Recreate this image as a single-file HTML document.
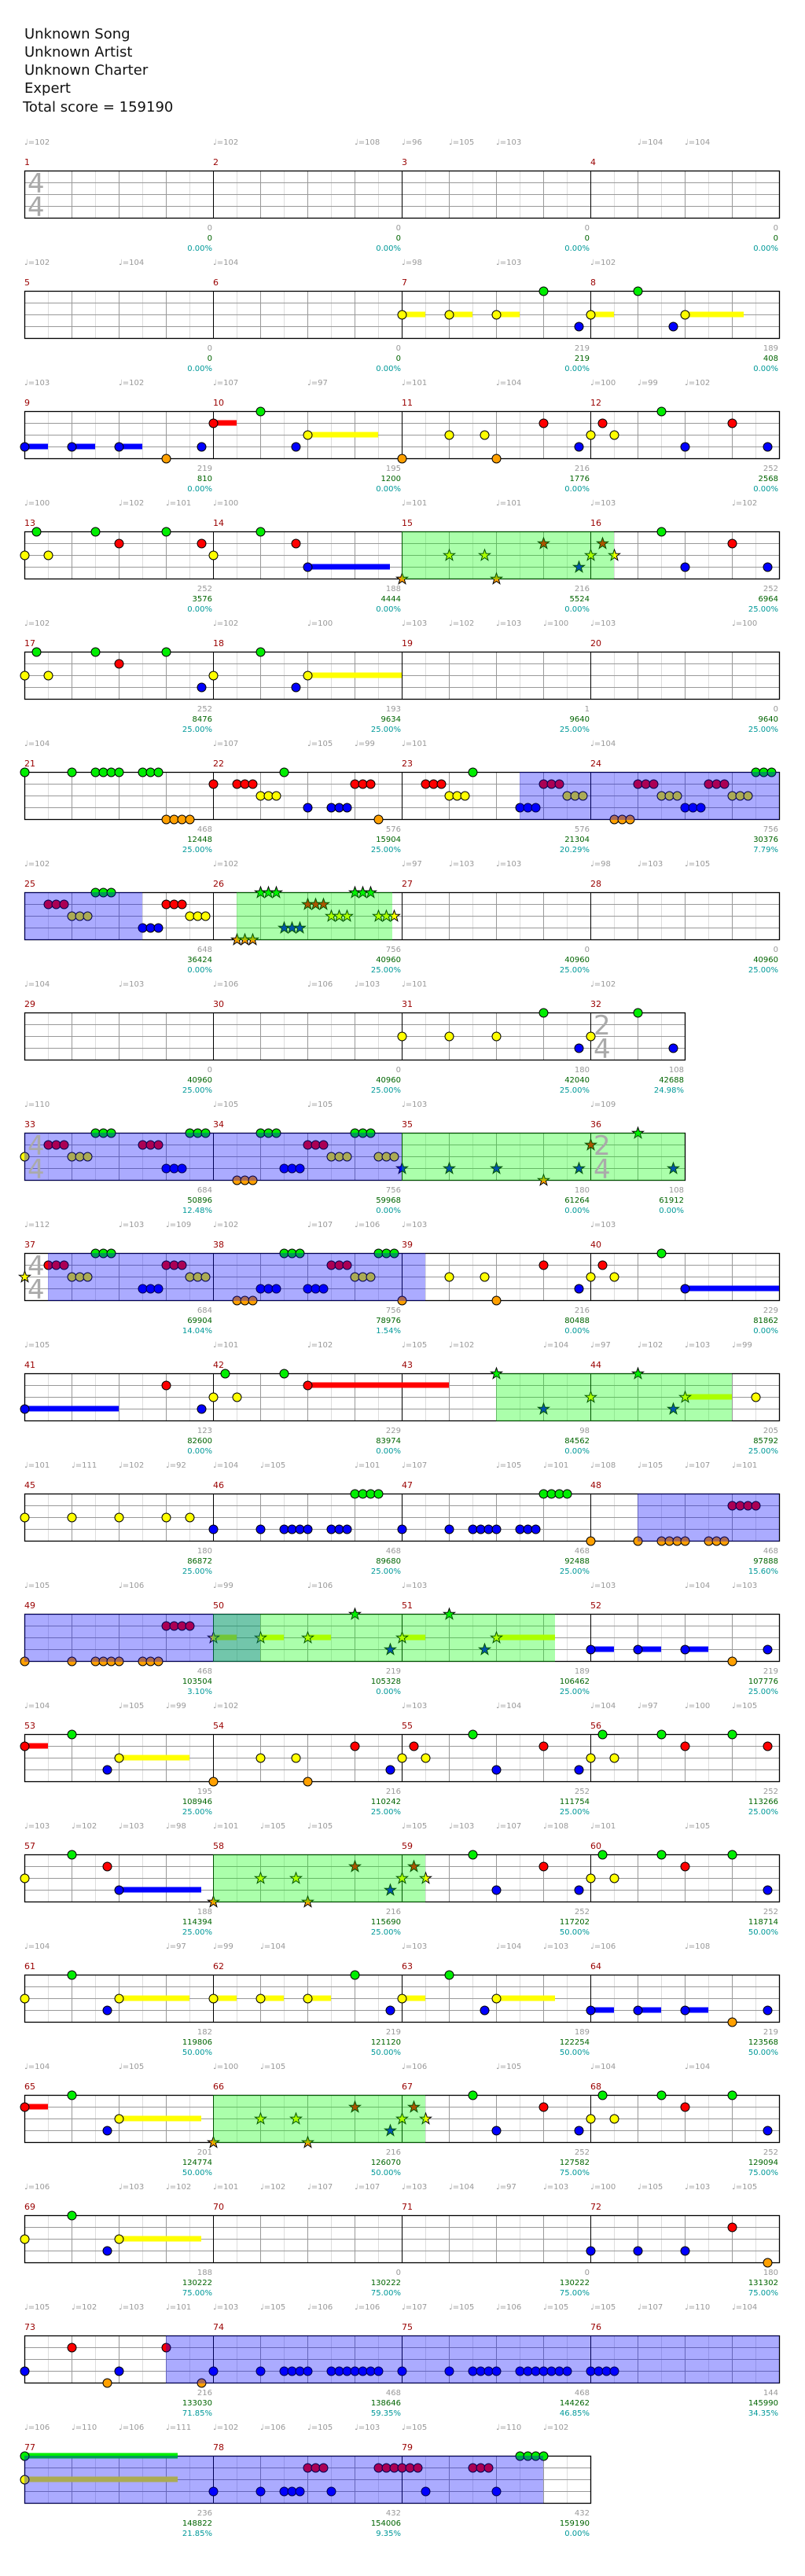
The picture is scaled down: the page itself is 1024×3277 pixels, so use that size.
<!DOCTYPE html>
<html><head><meta charset="utf-8">
<style>
html,body{margin:0;padding:0;background:#fff;}
svg{display:block;font-family:"DejaVu Sans","Liberation Sans",sans-serif;}
.h{font-size:18px;fill:#111;}
.m{font-size:11px;fill:#990000;}
.t{font-size:10px;fill:#999;}
.a{font-size:10px;fill:#999;text-anchor:end;}
.b{font-size:10px;fill:#006400;text-anchor:end;}
.c{font-size:10px;fill:#009999;text-anchor:end;}
.ts{font-size:34px;fill:#aaa;}
</style></head><body>
<svg id="s" xmlns="http://www.w3.org/2000/svg" width="1024" height="3277" viewBox="0 0 1024 3277">
<rect width="1024" height="3277" fill="#fff"/>
<text class="h" x="31" y="49">Unknown Song</text>
<text class="h" x="31" y="72">Unknown Artist</text>
<text class="h" x="31" y="95">Unknown Charter</text>
<text class="h" x="31" y="118">Expert</text>
<text class="h" x="29" y="142">Total score = 159190</text>
<g id="shapes"></g>

<!-- Row 1 -->
<g transform="translate(0,217)">
<text class="t" x="31" y="-33">♩=102</text><text class="t" x="271" y="-33">♩=102</text><text class="t" x="451" y="-33">♩=108</text><text class="t" x="511" y="-33">♩=96</text><text class="t" x="571" y="-33">♩=105</text><text class="t" x="631" y="-33">♩=103</text><text class="t" x="811" y="-33">♩=104</text><text class="t" x="871" y="-33">♩=104</text>
<text class="m" x="31" y="-7">1</text><text class="m" x="271" y="-7">2</text><text class="m" x="511" y="-7">3</text><text class="m" x="751" y="-7">4</text>
<text class="ts" x="35" y="28">4</text><text class="ts" x="35" y="58">4</text>
<text class="a" x="270" y="76">0</text><text class="b" x="270" y="89">0</text><text class="c" x="270" y="102">0.00%</text>
<text class="a" x="510" y="76">0</text><text class="b" x="510" y="89">0</text><text class="c" x="510" y="102">0.00%</text>
<text class="a" x="750" y="76">0</text><text class="b" x="750" y="89">0</text><text class="c" x="750" y="102">0.00%</text>
<text class="a" x="990" y="76">0</text><text class="b" x="990" y="89">0</text><text class="c" x="990" y="102">0.00%</text>
</g>
<!-- Row 2 -->
<g transform="translate(0,370)">
<text class="t" x="31" y="-33">♩=102</text><text class="t" x="151" y="-33">♩=104</text><text class="t" x="271" y="-33">♩=104</text><text class="t" x="511" y="-33">♩=98</text><text class="t" x="631" y="-33">♩=103</text><text class="t" x="751" y="-33">♩=102</text>
<text class="m" x="31" y="-7">5</text><text class="m" x="271" y="-7">6</text><text class="m" x="511" y="-7">7</text><text class="m" x="751" y="-7">8</text>
<text class="a" x="270" y="76">0</text><text class="b" x="270" y="89">0</text><text class="c" x="270" y="102">0.00%</text>
<text class="a" x="510" y="76">0</text><text class="b" x="510" y="89">0</text><text class="c" x="510" y="102">0.00%</text>
<text class="a" x="750" y="76">219</text><text class="b" x="750" y="89">219</text><text class="c" x="750" y="102">0.00%</text>
<text class="a" x="990" y="76">189</text><text class="b" x="990" y="89">408</text><text class="c" x="990" y="102">0.00%</text>
</g>
<!-- Row 3 -->
<g transform="translate(0,523)">
<text class="t" x="31" y="-33">♩=103</text><text class="t" x="151" y="-33">♩=102</text><text class="t" x="271" y="-33">♩=107</text><text class="t" x="391" y="-33">♩=97</text><text class="t" x="511" y="-33">♩=101</text><text class="t" x="631" y="-33">♩=104</text><text class="t" x="751" y="-33">♩=100</text><text class="t" x="811" y="-33">♩=99</text><text class="t" x="871" y="-33">♩=102</text>
<text class="m" x="31" y="-7">9</text><text class="m" x="271" y="-7">10</text><text class="m" x="511" y="-7">11</text><text class="m" x="751" y="-7">12</text>
<text class="a" x="270" y="76">219</text><text class="b" x="270" y="89">810</text><text class="c" x="270" y="102">0.00%</text>
<text class="a" x="510" y="76">195</text><text class="b" x="510" y="89">1200</text><text class="c" x="510" y="102">0.00%</text>
<text class="a" x="750" y="76">216</text><text class="b" x="750" y="89">1776</text><text class="c" x="750" y="102">0.00%</text>
<text class="a" x="990" y="76">252</text><text class="b" x="990" y="89">2568</text><text class="c" x="990" y="102">0.00%</text>
</g>
<!-- Row 4 -->
<g transform="translate(0,676)">
<text class="t" x="31" y="-33">♩=100</text><text class="t" x="151" y="-33">♩=102</text><text class="t" x="211" y="-33">♩=101</text><text class="t" x="271" y="-33">♩=100</text><text class="t" x="511" y="-33">♩=101</text><text class="t" x="631" y="-33">♩=101</text><text class="t" x="751" y="-33">♩=103</text><text class="t" x="931" y="-33">♩=102</text>
<text class="m" x="31" y="-7">13</text><text class="m" x="271" y="-7">14</text><text class="m" x="511" y="-7">15</text><text class="m" x="751" y="-7">16</text>
<text class="a" x="270" y="76">252</text><text class="b" x="270" y="89">3576</text><text class="c" x="270" y="102">0.00%</text>
<text class="a" x="510" y="76">188</text><text class="b" x="510" y="89">4444</text><text class="c" x="510" y="102">0.00%</text>
<text class="a" x="750" y="76">216</text><text class="b" x="750" y="89">5524</text><text class="c" x="750" y="102">0.00%</text>
<text class="a" x="990" y="76">252</text><text class="b" x="990" y="89">6964</text><text class="c" x="990" y="102">25.00%</text>
</g>
<!-- Row 5 -->
<g transform="translate(0,829)">
<text class="t" x="31" y="-33">♩=102</text><text class="t" x="271" y="-33">♩=102</text><text class="t" x="391" y="-33">♩=100</text><text class="t" x="511" y="-33">♩=103</text><text class="t" x="571" y="-33">♩=102</text><text class="t" x="631" y="-33">♩=103</text><text class="t" x="691" y="-33">♩=100</text><text class="t" x="751" y="-33">♩=103</text><text class="t" x="931" y="-33">♩=100</text>
<text class="m" x="31" y="-7">17</text><text class="m" x="271" y="-7">18</text><text class="m" x="511" y="-7">19</text><text class="m" x="751" y="-7">20</text>
<text class="a" x="270" y="76">252</text><text class="b" x="270" y="89">8476</text><text class="c" x="270" y="102">25.00%</text>
<text class="a" x="510" y="76">193</text><text class="b" x="510" y="89">9634</text><text class="c" x="510" y="102">25.00%</text>
<text class="a" x="750" y="76">1</text><text class="b" x="750" y="89">9640</text><text class="c" x="750" y="102">25.00%</text>
<text class="a" x="990" y="76">0</text><text class="b" x="990" y="89">9640</text><text class="c" x="990" y="102">25.00%</text>
</g>
<!-- Row 6 -->
<g transform="translate(0,982)">
<text class="t" x="31" y="-33">♩=104</text><text class="t" x="271" y="-33">♩=107</text><text class="t" x="391" y="-33">♩=105</text><text class="t" x="451" y="-33">♩=99</text><text class="t" x="511" y="-33">♩=101</text><text class="t" x="751" y="-33">♩=104</text>
<text class="m" x="31" y="-7">21</text><text class="m" x="271" y="-7">22</text><text class="m" x="511" y="-7">23</text><text class="m" x="751" y="-7">24</text>
<text class="a" x="270" y="76">468</text><text class="b" x="270" y="89">12448</text><text class="c" x="270" y="102">25.00%</text>
<text class="a" x="510" y="76">576</text><text class="b" x="510" y="89">15904</text><text class="c" x="510" y="102">25.00%</text>
<text class="a" x="750" y="76">576</text><text class="b" x="750" y="89">21304</text><text class="c" x="750" y="102">20.29%</text>
<text class="a" x="990" y="76">756</text><text class="b" x="990" y="89">30376</text><text class="c" x="990" y="102">7.79%</text>
</g>
<!-- Row 7 -->
<g transform="translate(0,1135)">
<text class="t" x="31" y="-33">♩=102</text><text class="t" x="271" y="-33">♩=102</text><text class="t" x="511" y="-33">♩=97</text><text class="t" x="571" y="-33">♩=103</text><text class="t" x="631" y="-33">♩=103</text><text class="t" x="751" y="-33">♩=98</text><text class="t" x="811" y="-33">♩=103</text><text class="t" x="871" y="-33">♩=105</text>
<text class="m" x="31" y="-7">25</text><text class="m" x="271" y="-7">26</text><text class="m" x="511" y="-7">27</text><text class="m" x="751" y="-7">28</text>
<text class="a" x="270" y="76">648</text><text class="b" x="270" y="89">36424</text><text class="c" x="270" y="102">0.00%</text>
<text class="a" x="510" y="76">756</text><text class="b" x="510" y="89">40960</text><text class="c" x="510" y="102">25.00%</text>
<text class="a" x="750" y="76">0</text><text class="b" x="750" y="89">40960</text><text class="c" x="750" y="102">25.00%</text>
<text class="a" x="990" y="76">0</text><text class="b" x="990" y="89">40960</text><text class="c" x="990" y="102">25.00%</text>
</g>
<!-- Row 8 -->
<g transform="translate(0,1288)">
<text class="t" x="31" y="-33">♩=104</text><text class="t" x="151" y="-33">♩=103</text><text class="t" x="271" y="-33">♩=106</text><text class="t" x="391" y="-33">♩=106</text><text class="t" x="451" y="-33">♩=103</text><text class="t" x="511" y="-33">♩=101</text><text class="t" x="751" y="-33">♩=102</text>
<text class="m" x="31" y="-7">29</text><text class="m" x="271" y="-7">30</text><text class="m" x="511" y="-7">31</text><text class="m" x="751" y="-7">32</text>
<text class="ts" x="755" y="28">2</text><text class="ts" x="755" y="58">4</text>
<text class="a" x="270" y="76">0</text><text class="b" x="270" y="89">40960</text><text class="c" x="270" y="102">25.00%</text>
<text class="a" x="510" y="76">0</text><text class="b" x="510" y="89">40960</text><text class="c" x="510" y="102">25.00%</text>
<text class="a" x="750" y="76">180</text><text class="b" x="750" y="89">42040</text><text class="c" x="750" y="102">25.00%</text>
<text class="a" x="870" y="76">108</text><text class="b" x="870" y="89">42688</text><text class="c" x="870" y="102">24.98%</text>
</g>
<!-- Row 9 -->
<g transform="translate(0,1441)">
<text class="t" x="31" y="-33">♩=110</text><text class="t" x="271" y="-33">♩=105</text><text class="t" x="391" y="-33">♩=105</text><text class="t" x="511" y="-33">♩=103</text><text class="t" x="751" y="-33">♩=109</text>
<text class="m" x="31" y="-7">33</text><text class="m" x="271" y="-7">34</text><text class="m" x="511" y="-7">35</text><text class="m" x="751" y="-7">36</text>
<text class="ts" x="35" y="28">4</text><text class="ts" x="35" y="58">4</text>
<text class="ts" x="755" y="28">2</text><text class="ts" x="755" y="58">4</text>
<text class="a" x="270" y="76">684</text><text class="b" x="270" y="89">50896</text><text class="c" x="270" y="102">12.48%</text>
<text class="a" x="510" y="76">756</text><text class="b" x="510" y="89">59968</text><text class="c" x="510" y="102">0.00%</text>
<text class="a" x="750" y="76">180</text><text class="b" x="750" y="89">61264</text><text class="c" x="750" y="102">0.00%</text>
<text class="a" x="870" y="76">108</text><text class="b" x="870" y="89">61912</text><text class="c" x="870" y="102">0.00%</text>
</g>
<!-- Row 10 -->
<g transform="translate(0,1594)">
<text class="t" x="31" y="-33">♩=112</text><text class="t" x="151" y="-33">♩=103</text><text class="t" x="211" y="-33">♩=109</text><text class="t" x="271" y="-33">♩=102</text><text class="t" x="391" y="-33">♩=107</text><text class="t" x="451" y="-33">♩=106</text><text class="t" x="511" y="-33">♩=103</text><text class="t" x="751" y="-33">♩=103</text>
<text class="m" x="31" y="-7">37</text><text class="m" x="271" y="-7">38</text><text class="m" x="511" y="-7">39</text><text class="m" x="751" y="-7">40</text>
<text class="ts" x="35" y="28">4</text><text class="ts" x="35" y="58">4</text>
<text class="a" x="270" y="76">684</text><text class="b" x="270" y="89">69904</text><text class="c" x="270" y="102">14.04%</text>
<text class="a" x="510" y="76">756</text><text class="b" x="510" y="89">78976</text><text class="c" x="510" y="102">1.54%</text>
<text class="a" x="750" y="76">216</text><text class="b" x="750" y="89">80488</text><text class="c" x="750" y="102">0.00%</text>
<text class="a" x="990" y="76">229</text><text class="b" x="990" y="89">81862</text><text class="c" x="990" y="102">0.00%</text>
</g>
<!-- Row 11 -->
<g transform="translate(0,1747)">
<text class="t" x="31" y="-33">♩=105</text><text class="t" x="271" y="-33">♩=101</text><text class="t" x="391" y="-33">♩=102</text><text class="t" x="511" y="-33">♩=105</text><text class="t" x="571" y="-33">♩=102</text><text class="t" x="691" y="-33">♩=104</text><text class="t" x="751" y="-33">♩=97</text><text class="t" x="811" y="-33">♩=102</text><text class="t" x="871" y="-33">♩=103</text><text class="t" x="931" y="-33">♩=99</text>
<text class="m" x="31" y="-7">41</text><text class="m" x="271" y="-7">42</text><text class="m" x="511" y="-7">43</text><text class="m" x="751" y="-7">44</text>
<text class="a" x="270" y="76">123</text><text class="b" x="270" y="89">82600</text><text class="c" x="270" y="102">0.00%</text>
<text class="a" x="510" y="76">229</text><text class="b" x="510" y="89">83974</text><text class="c" x="510" y="102">0.00%</text>
<text class="a" x="750" y="76">98</text><text class="b" x="750" y="89">84562</text><text class="c" x="750" y="102">0.00%</text>
<text class="a" x="990" y="76">205</text><text class="b" x="990" y="89">85792</text><text class="c" x="990" y="102">25.00%</text>
</g>
<!-- Row 12 -->
<g transform="translate(0,1900)">
<text class="t" x="31" y="-33">♩=101</text><text class="t" x="91" y="-33">♩=111</text><text class="t" x="151" y="-33">♩=102</text><text class="t" x="211" y="-33">♩=92</text><text class="t" x="271" y="-33">♩=104</text><text class="t" x="331" y="-33">♩=105</text><text class="t" x="451" y="-33">♩=101</text><text class="t" x="511" y="-33">♩=107</text><text class="t" x="631" y="-33">♩=105</text><text class="t" x="691" y="-33">♩=101</text><text class="t" x="751" y="-33">♩=108</text><text class="t" x="811" y="-33">♩=105</text><text class="t" x="871" y="-33">♩=107</text><text class="t" x="931" y="-33">♩=101</text>
<text class="m" x="31" y="-7">45</text><text class="m" x="271" y="-7">46</text><text class="m" x="511" y="-7">47</text><text class="m" x="751" y="-7">48</text>
<text class="a" x="270" y="76">180</text><text class="b" x="270" y="89">86872</text><text class="c" x="270" y="102">25.00%</text>
<text class="a" x="510" y="76">468</text><text class="b" x="510" y="89">89680</text><text class="c" x="510" y="102">25.00%</text>
<text class="a" x="750" y="76">468</text><text class="b" x="750" y="89">92488</text><text class="c" x="750" y="102">25.00%</text>
<text class="a" x="990" y="76">468</text><text class="b" x="990" y="89">97888</text><text class="c" x="990" y="102">15.60%</text>
</g>
<!-- Row 13 -->
<g transform="translate(0,2053)">
<text class="t" x="31" y="-33">♩=105</text><text class="t" x="151" y="-33">♩=106</text><text class="t" x="271" y="-33">♩=99</text><text class="t" x="391" y="-33">♩=106</text><text class="t" x="511" y="-33">♩=103</text><text class="t" x="751" y="-33">♩=103</text><text class="t" x="871" y="-33">♩=104</text><text class="t" x="931" y="-33">♩=103</text>
<text class="m" x="31" y="-7">49</text><text class="m" x="271" y="-7">50</text><text class="m" x="511" y="-7">51</text><text class="m" x="751" y="-7">52</text>
<text class="a" x="270" y="76">468</text><text class="b" x="270" y="89">103504</text><text class="c" x="270" y="102">3.10%</text>
<text class="a" x="510" y="76">219</text><text class="b" x="510" y="89">105328</text><text class="c" x="510" y="102">0.00%</text>
<text class="a" x="750" y="76">189</text><text class="b" x="750" y="89">106462</text><text class="c" x="750" y="102">25.00%</text>
<text class="a" x="990" y="76">219</text><text class="b" x="990" y="89">107776</text><text class="c" x="990" y="102">25.00%</text>
</g>
<!-- Row 14 -->
<g transform="translate(0,2206)">
<text class="t" x="31" y="-33">♩=104</text><text class="t" x="151" y="-33">♩=105</text><text class="t" x="211" y="-33">♩=99</text><text class="t" x="271" y="-33">♩=102</text><text class="t" x="511" y="-33">♩=103</text><text class="t" x="631" y="-33">♩=104</text><text class="t" x="751" y="-33">♩=104</text><text class="t" x="811" y="-33">♩=97</text><text class="t" x="871" y="-33">♩=100</text><text class="t" x="931" y="-33">♩=105</text>
<text class="m" x="31" y="-7">53</text><text class="m" x="271" y="-7">54</text><text class="m" x="511" y="-7">55</text><text class="m" x="751" y="-7">56</text>
<text class="a" x="270" y="76">195</text><text class="b" x="270" y="89">108946</text><text class="c" x="270" y="102">25.00%</text>
<text class="a" x="510" y="76">216</text><text class="b" x="510" y="89">110242</text><text class="c" x="510" y="102">25.00%</text>
<text class="a" x="750" y="76">252</text><text class="b" x="750" y="89">111754</text><text class="c" x="750" y="102">25.00%</text>
<text class="a" x="990" y="76">252</text><text class="b" x="990" y="89">113266</text><text class="c" x="990" y="102">25.00%</text>
</g>
<!-- Row 15 -->
<g transform="translate(0,2359)">
<text class="t" x="31" y="-33">♩=103</text><text class="t" x="91" y="-33">♩=102</text><text class="t" x="151" y="-33">♩=103</text><text class="t" x="211" y="-33">♩=98</text><text class="t" x="271" y="-33">♩=101</text><text class="t" x="331" y="-33">♩=105</text><text class="t" x="391" y="-33">♩=105</text><text class="t" x="511" y="-33">♩=105</text><text class="t" x="571" y="-33">♩=103</text><text class="t" x="631" y="-33">♩=107</text><text class="t" x="691" y="-33">♩=108</text><text class="t" x="751" y="-33">♩=101</text><text class="t" x="871" y="-33">♩=105</text>
<text class="m" x="31" y="-7">57</text><text class="m" x="271" y="-7">58</text><text class="m" x="511" y="-7">59</text><text class="m" x="751" y="-7">60</text>
<text class="a" x="270" y="76">188</text><text class="b" x="270" y="89">114394</text><text class="c" x="270" y="102">25.00%</text>
<text class="a" x="510" y="76">216</text><text class="b" x="510" y="89">115690</text><text class="c" x="510" y="102">25.00%</text>
<text class="a" x="750" y="76">252</text><text class="b" x="750" y="89">117202</text><text class="c" x="750" y="102">50.00%</text>
<text class="a" x="990" y="76">252</text><text class="b" x="990" y="89">118714</text><text class="c" x="990" y="102">50.00%</text>
</g>
<!-- Row 16 -->
<g transform="translate(0,2512)">
<text class="t" x="31" y="-33">♩=104</text><text class="t" x="211" y="-33">♩=97</text><text class="t" x="271" y="-33">♩=99</text><text class="t" x="331" y="-33">♩=104</text><text class="t" x="511" y="-33">♩=103</text><text class="t" x="631" y="-33">♩=104</text><text class="t" x="691" y="-33">♩=103</text><text class="t" x="751" y="-33">♩=106</text><text class="t" x="871" y="-33">♩=108</text>
<text class="m" x="31" y="-7">61</text><text class="m" x="271" y="-7">62</text><text class="m" x="511" y="-7">63</text><text class="m" x="751" y="-7">64</text>
<text class="a" x="270" y="76">182</text><text class="b" x="270" y="89">119806</text><text class="c" x="270" y="102">50.00%</text>
<text class="a" x="510" y="76">219</text><text class="b" x="510" y="89">121120</text><text class="c" x="510" y="102">50.00%</text>
<text class="a" x="750" y="76">189</text><text class="b" x="750" y="89">122254</text><text class="c" x="750" y="102">50.00%</text>
<text class="a" x="990" y="76">219</text><text class="b" x="990" y="89">123568</text><text class="c" x="990" y="102">50.00%</text>
</g>
<!-- Row 17 -->
<g transform="translate(0,2665)">
<text class="t" x="31" y="-33">♩=104</text><text class="t" x="151" y="-33">♩=105</text><text class="t" x="271" y="-33">♩=100</text><text class="t" x="331" y="-33">♩=105</text><text class="t" x="511" y="-33">♩=106</text><text class="t" x="631" y="-33">♩=105</text><text class="t" x="751" y="-33">♩=104</text><text class="t" x="871" y="-33">♩=104</text>
<text class="m" x="31" y="-7">65</text><text class="m" x="271" y="-7">66</text><text class="m" x="511" y="-7">67</text><text class="m" x="751" y="-7">68</text>
<text class="a" x="270" y="76">201</text><text class="b" x="270" y="89">124774</text><text class="c" x="270" y="102">50.00%</text>
<text class="a" x="510" y="76">216</text><text class="b" x="510" y="89">126070</text><text class="c" x="510" y="102">50.00%</text>
<text class="a" x="750" y="76">252</text><text class="b" x="750" y="89">127582</text><text class="c" x="750" y="102">75.00%</text>
<text class="a" x="990" y="76">252</text><text class="b" x="990" y="89">129094</text><text class="c" x="990" y="102">75.00%</text>
</g>
<!-- Row 18 -->
<g transform="translate(0,2818)">
<text class="t" x="31" y="-33">♩=106</text><text class="t" x="151" y="-33">♩=103</text><text class="t" x="211" y="-33">♩=102</text><text class="t" x="271" y="-33">♩=101</text><text class="t" x="331" y="-33">♩=102</text><text class="t" x="391" y="-33">♩=107</text><text class="t" x="451" y="-33">♩=107</text><text class="t" x="511" y="-33">♩=103</text><text class="t" x="571" y="-33">♩=104</text><text class="t" x="631" y="-33">♩=97</text><text class="t" x="691" y="-33">♩=103</text><text class="t" x="751" y="-33">♩=100</text><text class="t" x="811" y="-33">♩=105</text><text class="t" x="871" y="-33">♩=103</text><text class="t" x="931" y="-33">♩=105</text>
<text class="m" x="31" y="-7">69</text><text class="m" x="271" y="-7">70</text><text class="m" x="511" y="-7">71</text><text class="m" x="751" y="-7">72</text>
<text class="a" x="270" y="76">188</text><text class="b" x="270" y="89">130222</text><text class="c" x="270" y="102">75.00%</text>
<text class="a" x="510" y="76">0</text><text class="b" x="510" y="89">130222</text><text class="c" x="510" y="102">75.00%</text>
<text class="a" x="750" y="76">0</text><text class="b" x="750" y="89">130222</text><text class="c" x="750" y="102">75.00%</text>
<text class="a" x="990" y="76">180</text><text class="b" x="990" y="89">131302</text><text class="c" x="990" y="102">75.00%</text>
</g>
<!-- Row 19 -->
<g transform="translate(0,2971)">
<text class="t" x="31" y="-33">♩=105</text><text class="t" x="91" y="-33">♩=102</text><text class="t" x="151" y="-33">♩=103</text><text class="t" x="211" y="-33">♩=101</text><text class="t" x="271" y="-33">♩=103</text><text class="t" x="331" y="-33">♩=105</text><text class="t" x="391" y="-33">♩=106</text><text class="t" x="451" y="-33">♩=106</text><text class="t" x="511" y="-33">♩=107</text><text class="t" x="571" y="-33">♩=105</text><text class="t" x="631" y="-33">♩=106</text><text class="t" x="691" y="-33">♩=105</text><text class="t" x="751" y="-33">♩=105</text><text class="t" x="811" y="-33">♩=107</text><text class="t" x="871" y="-33">♩=110</text><text class="t" x="931" y="-33">♩=104</text>
<text class="m" x="31" y="-7">73</text><text class="m" x="271" y="-7">74</text><text class="m" x="511" y="-7">75</text><text class="m" x="751" y="-7">76</text>
<text class="a" x="270" y="76">216</text><text class="b" x="270" y="89">133030</text><text class="c" x="270" y="102">71.85%</text>
<text class="a" x="510" y="76">468</text><text class="b" x="510" y="89">138646</text><text class="c" x="510" y="102">59.35%</text>
<text class="a" x="750" y="76">468</text><text class="b" x="750" y="89">144262</text><text class="c" x="750" y="102">46.85%</text>
<text class="a" x="990" y="76">144</text><text class="b" x="990" y="89">145990</text><text class="c" x="990" y="102">34.35%</text>
</g>
<!-- Row 20 -->
<g transform="translate(0,3124)">
<text class="t" x="31" y="-33">♩=106</text><text class="t" x="91" y="-33">♩=110</text><text class="t" x="151" y="-33">♩=106</text><text class="t" x="211" y="-33">♩=111</text><text class="t" x="271" y="-33">♩=102</text><text class="t" x="331" y="-33">♩=106</text><text class="t" x="391" y="-33">♩=105</text><text class="t" x="451" y="-33">♩=103</text><text class="t" x="511" y="-33">♩=105</text><text class="t" x="631" y="-33">♩=110</text><text class="t" x="691" y="-33">♩=102</text>
<text class="m" x="31" y="-7">77</text><text class="m" x="271" y="-7">78</text><text class="m" x="511" y="-7">79</text>
<text class="a" x="270" y="76">236</text><text class="b" x="270" y="89">148822</text><text class="c" x="270" y="102">21.85%</text>
<text class="a" x="510" y="76">432</text><text class="b" x="510" y="89">154006</text><text class="c" x="510" y="102">9.35%</text>
<text class="a" x="750" y="76">432</text><text class="b" x="750" y="89">159190</text><text class="c" x="750" y="102">0.00%</text>
</g>
</svg>
<script>
(function(){
var NS="http://www.w3.org/2000/svg";
var G=document.getElementById("shapes");
function el(t,a){var e=document.createElementNS(NS,t);for(var k in a)e.setAttribute(k,a[k]);G.appendChild(e);return e;}
var COL=["#00ee00","#ff0000","#ffff00","#0000ff","#ffa000"];
var R=[
{n:""},
{n:"16,2,1 18,2,1 20,2,1 22,0 23.5,3 24,2,1 26,0 27.5,3 28,2,2.5"},
{n:"0,3,1 2,3,1 4,3,1 6,4 7.5,3 8,1,1 10,0 11.5,3 12,2,3 16,4 18,2 19.5,2 20,4 22,1 23.5,3 24.5,1 24,2 25,2 27,0 28,3 30,1 31.5,3"},
{n:"0.5,0 3,0 6,0 10,0 0,2 1,2 8,2 4,1 7.5,1 11.5,1 12,3,3.5 *16,4 *18,2 *19.5,2 *20,4 *22,1 *23.5,3 *24.5,1 *24,2 *25,2 27,0 30,1 28,3 31.5,3",g:[[16,25]]},
{n:"0.5,0 3,0 6,0 10,0 4,1 0,2 1,2 8,2 7.5,3 11.5,3 12,2,4"},
{n:"0,0 2,0 3x4,0 5x3,0 11,0 6x4,4 15,4 8,1 9x3,1 14x3,1 10x3,2 12,3 13x3,3 17x3,1 18x3,2 19,0 21x3,3 22x3,1 23x3,2 25x3,4 26x3,1 27x3,2 28x3,3 29x3,1 30x3,2 31x3,0",b:[[21,32]]},
{n:"1x3,1 2x3,2 3x3,0 5x3,3 6x3,1 7x3,2 *9x3,4 *10x3,0 *11x3,3 *12x3,1 *13x3,2 *14x3,0 *15x3,2",b:[[0,5]],g:[[9,15.6]]},
{n:"16,2 18,2 20,2 24,2 22,0 26,0 23.5,3 27.5,3",e:28},
{n:"0,2 3x3,0 7x3,0 10x3,0 14x3,0 1x3,1 5x3,1 12x3,1 2x3,2 13x3,2 15x3,2 6x3,3 11x3,3 9x3,4 *16,3 *18,3 *20,3 *23.5,3 *27.5,3 *22,4 *24,1 *26,0",b:[[0,16]],g:[[16,28]],e:28},
{n:"*0,2 1x3,1 3x3,0 11x3,0 15x3,0 2x3,2 7x3,2 14x3,2 6x3,1 13x3,1 5x3,3 10x3,3 12x3,3 9x3,4 16,4 18,2 19.5,2 24,2 25,2 22,1 24.5,1 20,4 23.5,3 27,0 28,3,4",b:[[1,17]]},
{n:"0,3,4 6,1 7.5,3 8,2 9,2 8.5,0 11,0 12,1,6 *20,0 *22,3 *24,2 *26,0 *27.5,3 *28,2,2 31,2",g:[[20,30]]},
{n:"0,2 2,2 4,2 6,2 7,2 8,3 10,3 11x4,3 13x3,3 14x4,0 16,3 18,3 19x4,3 21x3,3 22x4,0 24,4 26,4 27x4,4 29x3,4 30x4,1",b:[[26,32]]},
{n:"0,4 2,4 3x4,4 5x3,4 6x4,1 *8,2,1 *10,2,1 *12,2,1 *14,0 *15.5,3 *16,2,1 *18,0 *19.5,3 *20,2,2.5 24,3,1 26,3,1 28,3,1 31.5,3 30,4",b:[[0,10]],g:[[8,22.5]]},
{n:"0,1,1 2,0 3.5,3 4,2,3 8,4 10,2 11.5,2 12,4 14,1 15.5,3 16,2 17,2 16.5,1 19,0 20,3 22,1 23.5,3 24,2 25,2 24.5,0 27,0 30,0 28,1 31.5,1"},
{n:"0,2 2,0 3.5,1 4,3,3.5 *8,4 *10,2 *11.5,2 *12,4 *14,1 *15.5,3 *16,2 *16.5,1 *17,2 19,0 20,3 22,1 23.5,3 24,2 25,2 24.5,0 27,0 30,0 28,1 31.5,3",g:[[8,17]]},
{n:"0,2 2,0 3.5,3 4,2,3 8,2,1 10,2,1 12,2,1 14,0 15.5,3 16,2,1 18,0 19.5,3 20,2,2.5 24,3,1 26,3,1 28,3,1 30,4 31.5,3"},
{n:"0,1,1 2,0 3.5,3 4,2,3.5 *8,4 *10,2 *11.5,2 *12,4 *14,1 *15.5,3 *16,2 *16.5,1 *17,2 19,0 20,3 22,1 23.5,3 24,2 25,2 24.5,0 27,0 30,0 28,1 31.5,3",g:[[8,17]]},
{n:"0,2 2,0 3.5,3 4,2,3.5 24,3 26,3 28,3 30,1 31.5,4"},
{n:"0,3 2,1 3.5,4 4,3 6,1 7.5,4 8,3 10,3 11x4,3 13x7,3 16,3 18,3 19x4,3 21x7,3 24x4,3",b:[[6,32]]},
{n:"0,0,6.5 0,2,6.5 8,3 10,3 11x3,3 13,3 12x3,1 15x6,1 17,3 19x3,1 20,3 21x4,0",b:[[0,22]],e:24}
];
function X(E){return 31+30*E;}
function star(cx,cy,fill){var p=[];for(var i=0;i<10;i++){var r=i%2?3:7.5;var a=-Math.PI/2+i*Math.PI/5;p.push((cx+r*Math.cos(a)).toFixed(1)+","+(cy+r*Math.sin(a)).toFixed(1));}
el("polygon",{points:p.join(" "),fill:fill,stroke:"#000","stroke-width":"1"});}
R.forEach(function(r,i){
var T=217+153*i,end=r.e||32,x1=X(end);
var k;
for(k=1;k<end;k+=2)el("line",{x1:X(k)+.5,x2:X(k)+.5,y1:T,y2:T+60,stroke:"#dddddd"});
for(k=2;k<end;k+=2)if(k%8)el("line",{x1:X(k)+.5,x2:X(k)+.5,y1:T,y2:T+60,stroke:"#999999"});
for(k=1;k<4;k++)el("line",{x1:31,x2:x1,y1:T+15*k+.5,y2:T+15*k+.5,stroke:"#999999"});
for(k=8;k<end;k+=8)el("line",{x1:X(k)+.5,x2:X(k)+.5,y1:T,y2:T+60,stroke:"#000"});
el("rect",{x:31.5,y:T+.5,width:x1-31,height:60,fill:"none",stroke:"#000","stroke-width":"1.3"});
var notes=[];
r.n.split(" ").forEach(function(tok){if(!tok)return;var s=tok[0]=="*";if(s)tok=tok.slice(1);var p=tok.split(",");var ep=p[0].split("x");var E=parseFloat(ep[0]),c=ep[1]?parseInt(ep[1]):1;var ln=parseInt(p[1]),su=p[2]?parseFloat(p[2]):0;
for(var j=0;j<c;j++)notes.push({E:E+j/3,l:ln,s:s,su:su});});
notes.forEach(function(n){if(n.su){el("rect",{x:X(n.E),y:T+15*n.l-3.5,width:30*n.su,height:7,fill:COL[n.l]});}});
notes.forEach(function(n){var cx=X(n.E)+.5,cy=T+15*n.l+.5;if(n.s)star(cx,cy,COL[n.l]);else el("circle",{cx:cx,cy:cy,r:5.5,fill:COL[n.l],stroke:"#000","stroke-width":"1"});});
(r.b||[]).forEach(function(b){el("rect",{x:X(b[0]),y:T,width:30*(b[1]-b[0]),height:61,fill:"rgba(0,0,255,0.33)"});});
(r.g||[]).forEach(function(b){el("rect",{x:X(b[0]),y:T,width:30*(b[1]-b[0]),height:61,fill:"rgba(0,255,0,0.33)"});});
});
})();
</script>
</body></html>
